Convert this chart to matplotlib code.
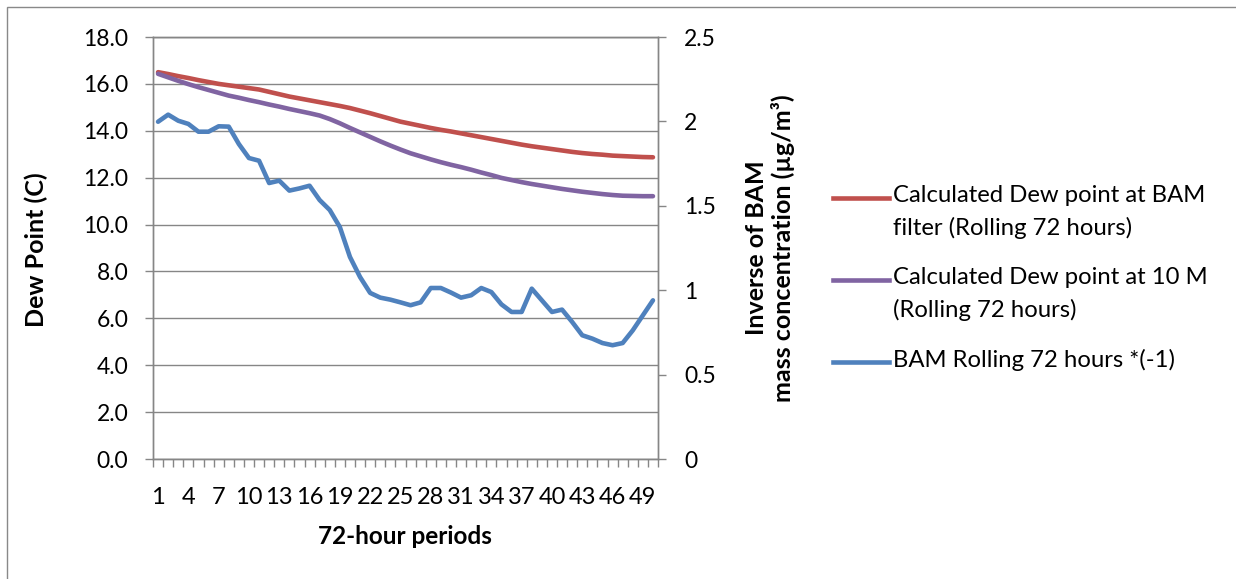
import matplotlib
matplotlib.use("Agg")
import matplotlib.pyplot as plt
from matplotlib.lines import Line2D
from matplotlib.patches import Rectangle
from matplotlib.ticker import FixedLocator, FuncFormatter

plt.rcParams['font.family'] = ['Lato', 'DejaVu Sans']

periods = list(range(1, 51))

dew_bam = [16.50, 16.42, 16.33, 16.25, 16.16, 16.08, 16.00, 15.94, 15.88, 15.82,
           15.76, 15.66, 15.56, 15.46, 15.38, 15.30, 15.22, 15.14, 15.06, 14.97,
           14.86, 14.75, 14.63, 14.51, 14.39, 14.30, 14.21, 14.12, 14.04, 13.97,
           13.89, 13.81, 13.73, 13.65, 13.57, 13.49, 13.41, 13.34, 13.28, 13.22,
           13.16, 13.10, 13.05, 13.01, 12.98, 12.94, 12.92, 12.90, 12.88, 12.87]

dew_10m = [16.43, 16.28, 16.13, 15.99, 15.86, 15.74, 15.62, 15.50, 15.41, 15.31,
           15.22, 15.12, 15.03, 14.93, 14.84, 14.75, 14.65, 14.50, 14.32, 14.12,
           13.93, 13.74, 13.55, 13.37, 13.20, 13.04, 12.91, 12.78, 12.66, 12.55,
           12.45, 12.34, 12.22, 12.11, 11.99, 11.90, 11.81, 11.73, 11.66, 11.59,
           11.52, 11.46, 11.40, 11.35, 11.30, 11.26, 11.23, 11.22, 11.21, 11.21]

bam_inv = [1.998, 2.040, 2.004, 1.985, 1.939, 1.939, 1.971, 1.969, 1.866, 1.783,
           1.767, 1.635, 1.649, 1.590, 1.603, 1.619, 1.534, 1.475, 1.374, 1.197,
           1.078, 0.984, 0.956, 0.944, 0.928, 0.911, 0.928, 1.013, 1.013, 0.986,
           0.956, 0.970, 1.013, 0.989, 0.916, 0.871, 0.871, 1.009, 0.940, 0.871,
           0.885, 0.812, 0.733, 0.713, 0.687, 0.674, 0.687, 0.762, 0.851, 0.940]

left_ticks = [0, 2, 4, 6, 8, 10, 12, 14, 16, 18]
right_ticks = [0, 0.5, 1, 1.5, 2, 2.5]
x_label_ticks = list(range(1, 51, 3))

series_labels = ["Calculated Dew point at BAM\nfilter (Rolling 72 hours)",
                 "Calculated Dew point at 10 M\n(Rolling 72 hours)",
                 "BAM Rolling 72 hours *(-1)"]

RED = '#C0504D'
PURPLE = '#8064A2'
BLUE = '#4F81BD'
GRID = '#868686'

W, H = 1236, 579
fig = plt.figure(figsize=(W / 100, H / 100), dpi=100)

L, R, T, B = 153, 658, 37, 459
ax = fig.add_axes([L / W, 1 - B / H, (R - L) / W, (B - T) / H])
ax2 = ax.twinx()

lw = 3.3
ax.plot(periods, dew_bam, color=RED, lw=lw, solid_capstyle='round', zorder=3)
ax.plot(periods, dew_10m, color=PURPLE, lw=lw, solid_capstyle='round', zorder=3)
ax2.plot(periods, bam_inv, color=BLUE, lw=lw, solid_capstyle='round', zorder=3)

ax.set_xlim(0.5, 50.5)
ax.set_ylim(0, 18)
ax2.set_ylim(0, 2.5)

ax.set_yticks(left_ticks)
ax.yaxis.set_major_formatter(FuncFormatter(lambda v, p: f"{v:.1f}"))
ax2.set_yticks(right_ticks)
ax2.yaxis.set_major_formatter(FuncFormatter(lambda v, p: f"{v:g}"))

ax.set_xticks(x_label_ticks)
ax.set_xticklabels([str(t) for t in x_label_ticks])
ax.xaxis.set_minor_locator(FixedLocator([i + 0.5 for i in range(0, 51)]))

ax.grid(axis='y', color=GRID, lw=1.0, zorder=0)
ax.set_axisbelow(True)

for a in (ax, ax2):
    for s in a.spines.values():
        s.set_color(GRID)
        s.set_linewidth(1.0)

ax.tick_params(axis='x', which='major', length=0, pad=20, labelsize=17)
ax.tick_params(axis='x', which='minor', length=5.8, width=1.0, color=GRID, direction='out')
ax.tick_params(axis='y', which='major', length=5.8, width=1.0, color=GRID, pad=12, labelsize=16.5)
ax2.tick_params(axis='y', which='major', length=5.8, width=1.0, color=GRID, pad=13, labelsize=16.5)

# Axis titles
fig.text(36 / W, 1 - 250 / H, "Dew Point (C)", rotation=90, ha='center', va='center',
         fontsize=18, fontweight='bold')
fig.text(405 / W, 1 - 536 / H, "72-hour periods", ha='center', va='center',
         fontsize=17.5, fontweight='bold')
fig.text(770 / W, 1 - 248 / H, "Inverse of BAM\nmass concentration (µg/m³)", rotation=90,
         ha='center', va='center', fontsize=18, fontweight='bold', linespacing=1.15,
         multialignment='center')

# Legend (manual placement like the reference)
leg_items = [(RED, series_labels[0], 198), (PURPLE, series_labels[1], 280), (BLUE, series_labels[2], 362)]
for col, lab, yc in leg_items:
    fig.add_artist(Line2D([833 / W, 889 / W], [1 - yc / H, 1 - yc / H], color=col, lw=lw,
                          transform=fig.transFigure))
    fig.text(893 / W, 1 - (yc - 13) / H, lab, ha='left', va='top', fontsize=17.2,
             linespacing=1.62)

# Chart border
fig.add_artist(Rectangle((7 / W, -0.05), 1.2, 1 - 7 / H + 0.05, fill=False,
                         edgecolor='#898989', lw=1.0, transform=fig.transFigure))

fig.savefig("out.png", dpi=100)
